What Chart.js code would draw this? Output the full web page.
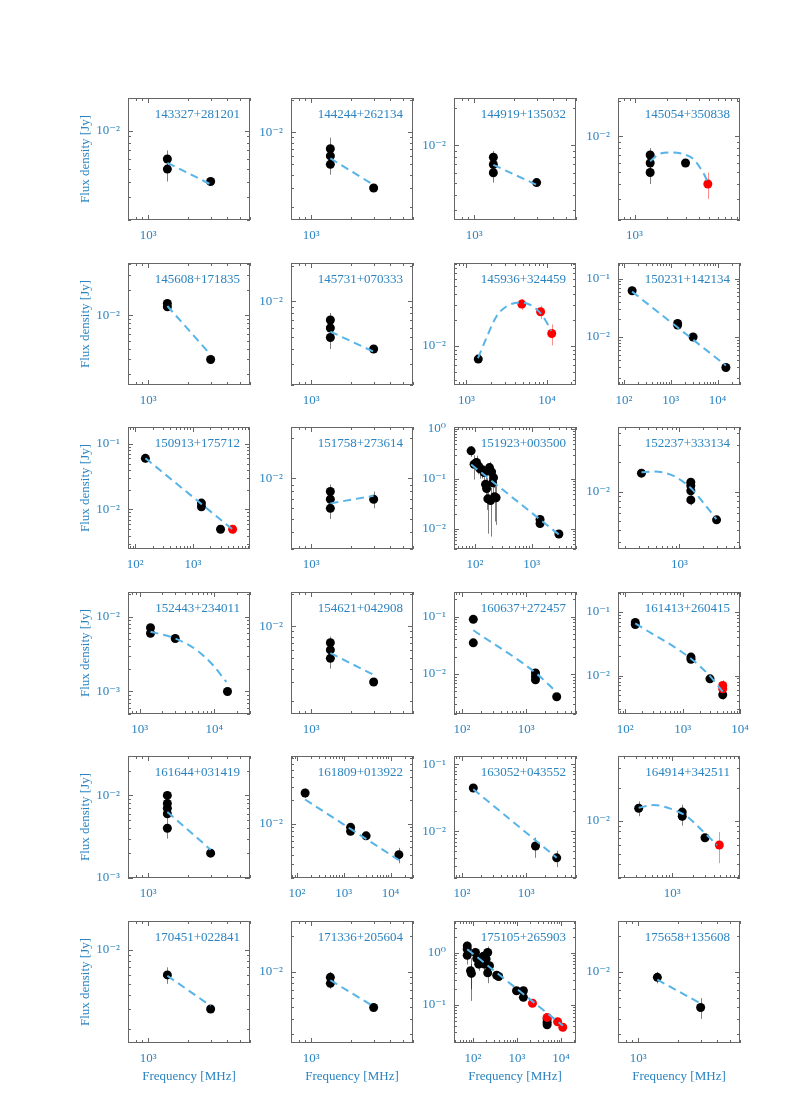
<!DOCTYPE html>
<html>
<head>
<meta charset="utf-8">
<script src="https://cdn.jsdelivr.net/npm/chart.js@4.4.1/dist/chart.umd.min.js"></script>
<style>
body { margin: 0; background: #fff; }
#page { position: relative; width: 790px; height: 1118px; }
canvas { position: absolute; }
</style>
</head>
<body>
<div id="page"></div>
<script>
var names = ['143327+281201','144244+262134','144919+135032','145054+350838',
	'145608+171835','145731+070333','145936+324459','150231+142134',
	'150913+175712','151758+273614','151923+003500','152237+333134',
	'152443+234011','154621+042908','160637+272457','161413+260415',
	'161644+031419','161809+013922','163052+043552','164914+342511',
	'170451+022841','171336+205604','175105+265903','175658+135608'];

// frequency in MHz, flux density in Jy
var blackFreq = [
	[1400,1400,3000], [1400,1400,1400,3000], [1400,1400,1400,3000], [1400,1400,1400,3000],
	[1400,1400,3000], [1400,1400,1400,3000], [1400], [150,1400,1400,3000,15000],
	[150,1400,1400,3000], [1400,1400,1400,3000],
	[86,97,107,115,122,135,146,154,161,169,181,189,197,205,213,222,236,1400,1400,3000],
	[325,1400,1400,1400,1400,3000],
	[1400,1400,3000,15000], [1400,1400,1400,3000], [150,150,1400,1400,1400,3000], [150,150,1400,1400,3000,5000],
	[1400,1400,1400,1400,1400,3000], [150,1400,1400,3000,15000], [150,1400,3000], [325,1400,1400,3000],
	[1400,3000], [1400,1400,3000],
	[74,74,74,88,92,114,122,135,153,173,182,199,216,216,237,346,384,977,1400,1400,4850,4850,4850],
	[1400,3000]
];
var blackFlux = [
	[0.006,0.005,0.004], [0.007,0.006,0.005,0.003], [0.008,0.007,0.006,0.005], [0.007,0.006,0.005,0.006],
	[0.0137,0.0125,0.003], [0.007,0.006,0.005,0.004], [0.007], [0.062,0.017,0.016,0.010,0.003],
	[0.060,0.0125,0.011,0.005], [0.008,0.007,0.006,0.007],
	[0.366,0.197,0.213,0.183,0.161,0.152,0.134,0.078,0.064,0.040,0.169,0.037,0.138,0.084,0.106,0.044,0.042,0.0154,0.0128,0.0079],
	[0.0155,0.0125,0.0115,0.0102,0.0082,0.0051],
	[0.0071,0.006,0.0051,0.001], [0.007,0.006,0.005,0.003], [0.09,0.035,0.0104,0.009,0.0079,0.004], [0.068,0.063,0.0195,0.018,0.0089,0.005],
	[0.01,0.008,0.007,0.006,0.004,0.002], [0.025,0.009,0.008,0.007,0.004], [0.044,0.006,0.004], [0.013,0.012,0.011,0.007],
	[0.006,0.003], [0.009,0.008,0.005],
	[1.33,1.16,0.89,0.45,0.40,1.0,0.77,0.6,0.69,0.85,0.6,0.75,1.0,0.41,0.56,0.37,0.35,0.187,0.187,0.14,0.054,0.047,0.042],
	[0.009,0.005]
];
var blackErr = [
	[0.001,0.001,0.0002], [0.0019,0.001,0.001,0.0002], [0.001,0.001,0.001,0.0002], [0.001,0.001,0.001,0.0003],
	[0.0012,0.0012,0.0002], [0.001,0.001,0.001,0.0002], [0.0007], [0.006,0.0015,0.0015,0.0005,0.0002],
	[0.009,0.0015,0.0015,0.0003], [0.001,0.001,0.001,0.001],
	[0.09,0.1,0.08,0.06,0.06,0.05,0.05,0.04,0.04,0.032,0.05,0.03,0.04,0.05,0.04,0.03,0.03,0.002,0.002,0.0005],
	[0.0015,0.001,0.001,0.001,0.001,0.0003],
	[0.0008,0.0006,0.0003,0.0001], [0.001,0.0008,0.001,0.0002], [0.005,0.003,0.001,0.001,0.001,0.0003], [0.004,0.004,0.0015,0.0015,0.0008,0.0008],
	[0.001,0.001,0.001,0.001,0.001,0.0001], [0.0035,0.0007,0.0007,0.0004,0.0009], [0.002,0.002,0.0011], [0.002,0.002,0.002,0.0004],
	[0.001,0.0002], [0.001,0.0008,0.0003],
	[0.3,0.3,0.3,0.33,0.2,0.2,0.25,0.15,0.15,0.2,0.2,0.2,0.3,0.15,0.1,0.03,0.03,0.02,0.02,0.02,0.006,0.006,0.006],
	[0.001,0.001]
];

var redFreq = [[],[],[],[4850], [],[],[4850,8300,11400],[], [4850],[],[],[], [],[],[],[5000,5000], [],[],[],[4850], [],[],[2250,4850,8400,11000],[]];
var redFlux = [[],[],[],[0.004], [],[],[0.0305,0.0248,0.0139],[], [0.005],[],[],[], [],[],[],[0.007,0.0062], [],[],[],[0.006], [],[],[0.108,0.058,0.048,0.0378],[]];
var redErr  = [[],[],[],[0.001], [],[],[0.0044,0.0043,0.0038],[], [0.0008],[],[],[], [],[],[],[0.0015,0.0012], [],[],[],[0.0019], [],[],[0.005,0.005,0.006,0.006],[]];

// fitted spectra
var fitFreq = [
	[1400,3000], [1400,3000], [1400,3000], [1400,1742,2244,2879,3570,4432,4770],
	[1400,3000], [1400,3000], [1390,1766,2350,3126,4570,6680,8890,11300], [150,15000],
	[150,4850], [1400,3000], [86,3000], [325,467,843,1410,2045,2980],
	[1400,3000,5820,9620,14500], [1400,3000], [150,1400,3000], [150,1400,3000,5000],
	[1400,3000], [150,15000], [150,3000], [325,536,938,1641,2863,4485],
	[1400,3000], [1400,3000], [74,11000], [1400,3000]
];
var fitFlux = [
	[0.0056,0.0038], [0.0057,0.0032], [0.00695,0.0048], [0.0062,0.0072,0.00735,0.0071,0.00645,0.0049,0.0043],
	[0.0128,0.0034], [0.0056,0.0038], [0.0072,0.0123,0.0219,0.0286,0.0318,0.0286,0.0219,0.0149], [0.060,0.00324],
	[0.0604,0.00495], [0.00653,0.00743], [0.195,0.0077], [0.0158,0.0161,0.0145,0.0108,0.0076,0.0052],
	[0.00628,0.0051,0.00356,0.00224,0.00134], [0.0056,0.0035], [0.058,0.0105,0.0048], [0.0656,0.0184,0.0098,0.0056],
	[0.0063,0.0022], [0.0206,0.0034], [0.0422,0.004], [0.01315,0.0139,0.0129,0.0109,0.0079,0.006],
	[0.0059,0.0032], [0.0085,0.0051], [1.16,0.0405], [0.0086,0.0054]
];

var colLeft = [128, 291, 454, 618];
var rowTop = [98, 263, 427, 592, 756, 921];
var plotSize = 122;
var yAxisW = 60, xAxisH = 45, padTop = 10, padRight = 12;

var blue = '#2b84c1';
var fitBlue = '#56b4e9';
var frameColor = '#666';
var serif = "'Liberation Serif', 'DejaVu Serif', serif";

var supMap = {'-':'\u207b','0':'\u2070','1':'\u00b9','2':'\u00b2','3':'\u00b3','4':'\u2074','5':'\u2075','6':'\u2076','7':'\u2077','8':'\u2078','9':'\u2079'};
function sup(n) {
	return String(n).split('').map(function (c) { return supMap[c]; }).join('');
}

function isPow(v) {
	var l = Math.log10(v);
	return Math.abs(l - Math.round(l)) < 1e-6;
}

function powLabel(v) {
	if (!isPow(v)) return '';
	return '10' + sup(Math.round(Math.log10(v)));
}

function logTicks(min, max) {
	var out = [];
	for (var e = Math.floor(Math.log10(min)); e <= Math.ceil(Math.log10(max)); e++) {
		for (var k = 1; k < 10; k++) {
			var v = k * Math.pow(10, e);
			if (v >= min * 0.999999 && v <= max * 1.000001) out.push({value: v});
		}
	}
	return out;
}

function noPad(s) {
	s.paddingTop = 0;
	s.paddingBottom = 0;
	s.paddingLeft = 0;
	s.paddingRight = 0;
}

function pts(fs, ss) {
	return fs.map(function (f, j) { return {x: f, y: ss[j]}; });
}

function drawErr(ctx, xs, ys, f, s, e, color, a) {
	ctx.strokeStyle = color;
	for (var j = 0; j < f.length; j++) {
		var px = Math.round(xs.getPixelForValue(f[j])) + 0.5;
		var lo = s[j] - e[j];
		var y1 = ys.getPixelForValue(s[j] + e[j]);
		var y2 = lo > 0 ? ys.getPixelForValue(lo) : a.bottom;
		ctx.beginPath();
		ctx.moveTo(px, y1);
		ctx.lineTo(px, y2);
		ctx.stroke();
	}
}

function line(ctx, x1, y1, x2, y2) {
	ctx.beginPath();
	ctx.moveTo(x1, y1);
	ctx.lineTo(x2, y2);
	ctx.stroke();
}

var panelPlugin = {
	id: 'panel',
	beforeDatasetsDraw: function (chart, args, opts) {
		var i = opts.idx, ctx = chart.ctx, a = chart.chartArea;
		var xs = chart.scales.x, ys = chart.scales.y;
		ctx.save();
		ctx.beginPath();
		ctx.rect(a.left, a.top, a.right - a.left, a.bottom - a.top);
		ctx.clip();
		ctx.lineWidth = 1;
		drawErr(ctx, xs, ys, blackFreq[i], blackFlux[i], blackErr[i], 'rgba(0,0,0,0.5)', a);
		drawErr(ctx, xs, ys, redFreq[i], redFlux[i], redErr[i], 'rgba(255,0,0,0.45)', a);
		ctx.restore();
	},
	afterDraw: function (chart, args, opts) {
		var i = opts.idx, ctx = chart.ctx, a = chart.chartArea;
		var xs = chart.scales.x, ys = chart.scales.y;
		ctx.save();
		ctx.strokeStyle = frameColor;
		ctx.lineWidth = 1;
		xs.ticks.forEach(function (t) {
			var p = Math.round(xs.getPixelForValue(t.value)) + 0.5;
			var L = isPow(t.value) ? 5 : 3;
			line(ctx, p, a.bottom, p, a.bottom - L);
			line(ctx, p, a.top, p, a.top + L);
		});
		ys.ticks.forEach(function (t) {
			var p = Math.round(ys.getPixelForValue(t.value)) + 0.5;
			var L = isPow(t.value) ? 5 : 3;
			line(ctx, a.left, p, a.left + L, p);
			line(ctx, a.right, p, a.right - L, p);
		});
		ctx.strokeRect(a.left + 0.5, a.top + 0.5, a.right - a.left - 1, a.bottom - a.top - 1);

		ctx.fillStyle = blue;
		ctx.font = '13px ' + serif;
		ctx.textAlign = 'right';
		ctx.textBaseline = 'middle';
		ctx.fillText(names[i], a.right - 10, a.top + 17);
		ctx.restore();
	}
};

var page = document.getElementById('page');

names.forEach(function (name, i) {
	var col = i % 4, row = Math.floor(i / 4);
	var cv = document.createElement('canvas');
	cv.width = yAxisW + plotSize + padRight;
	cv.height = padTop + plotSize + xAxisH;
	cv.style.left = (colLeft[col] - yAxisW) + 'px';
	cv.style.top = (rowTop[row] - padTop) + 'px';
	page.appendChild(cv);

	var allF = blackFreq[i].concat(redFreq[i]);
	var allS = blackFlux[i].concat(redFlux[i]);
	var xMin = Math.min.apply(null, allF) / 2;
	var xMax = Math.max.apply(null, allF) * 2;
	var yMin = Math.min.apply(null, allS) / 2;
	var yMax = Math.max.apply(null, allS) * 3;

	new Chart(cv, {
		type: 'scatter',
		data: {
			datasets: [
				{
					data: pts(fitFreq[i], fitFlux[i]),
					showLine: true,
					borderColor: fitBlue,
					borderWidth: 2,
					borderDash: [8, 5],
					pointRadius: 0,
					cubicInterpolationMode: 'monotone',
					fill: false
				},
				{
					data: pts(redFreq[i], redFlux[i]),
					backgroundColor: '#ff0000',
					borderWidth: 0,
					pointRadius: 4.5
				},
				{
					data: pts(blackFreq[i], blackFlux[i]),
					backgroundColor: '#000',
					borderWidth: 0,
					pointRadius: 4.5
				}
			]
		},
		options: {
			responsive: false,
			animation: false,
			devicePixelRatio: 1,
			events: [],
			layout: { padding: { top: padTop, right: padRight, left: 0, bottom: 0 } },
			plugins: {
				legend: { display: false },
				tooltip: { enabled: false },
				panel: { idx: i }
			},
			scales: {
				x: {
					type: 'logarithmic',
					position: 'bottom',
					min: xMin,
					max: xMax,
					afterBuildTicks: function (s) { s.ticks = logTicks(s.min, s.max); },
					afterFit: function (s) { s.height = xAxisH; noPad(s); },
					grid: { display: false, drawTicks: false },
					border: { display: false },
					ticks: {
						autoSkip: false, maxRotation: 0, minRotation: 0, padding: 8,
						color: blue, font: { family: serif, size: 13 },
						callback: powLabel
					},
					title: {
						display: row === 5,
						text: 'Frequency [MHz]',
						color: blue,
						font: { family: serif, size: 13 },
						padding: { top: 0, bottom: 4 }
					}
				},
				y: {
					type: 'logarithmic',
					position: 'left',
					min: yMin,
					max: yMax,
					afterBuildTicks: function (s) { s.ticks = logTicks(s.min, s.max); },
					afterFit: function (s) { s.width = yAxisW; noPad(s); },
					grid: { display: false, drawTicks: false },
					border: { display: false },
					ticks: {
						autoSkip: false, padding: 8,
						color: blue, font: { family: serif, size: 13 },
						callback: powLabel
					},
					title: {
						display: col === 0,
						text: 'Flux density [Jy]',
						color: blue,
						font: { family: serif, size: 13 },
						padding: { top: 10, bottom: 0 }
					}
				}
			}
		},
		plugins: [panelPlugin]
	});
});
</script>
</body>
</html>
